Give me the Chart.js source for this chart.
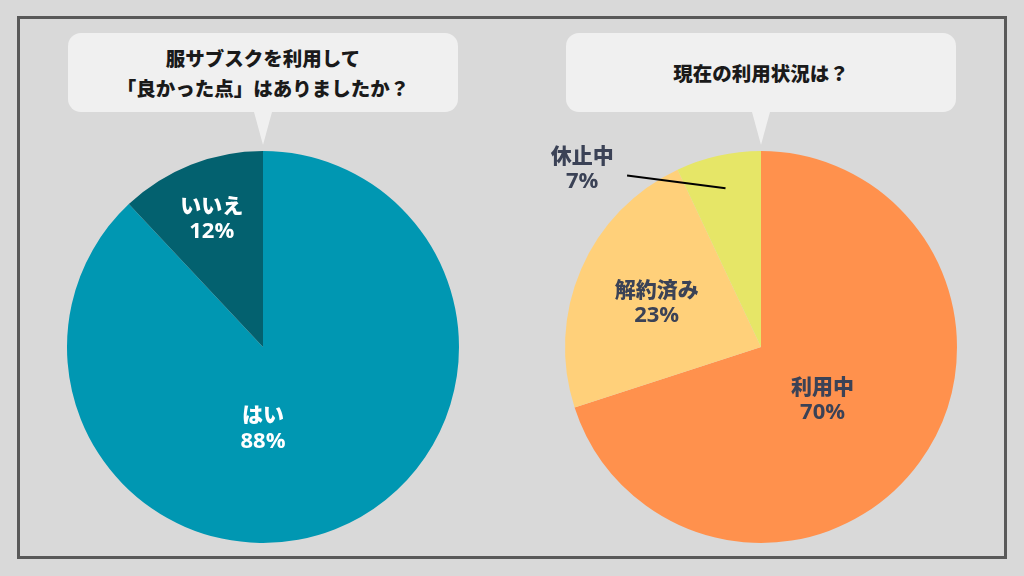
<!DOCTYPE html>
<html>
<head>
<meta charset="utf-8">
<script src="https://cdn.jsdelivr.net/npm/chart.js@4"></script>
<style>
	html, body { margin: 0; padding: 0; background: #d9d9d9; }
	#wrap { position: relative; width: 1024px; height: 576px; overflow: hidden; font-family: "Noto Sans CJK JP", sans-serif; }
	#frame { position: absolute; left: 17px; top: 16px; width: 984px; height: 537px; border: 3px solid #595959; }
	.bubble { position: absolute; top: 33px; width: 390px; height: 79px; background: #f0f0f0; border-radius: 13px;
		display: flex; align-items: center; justify-content: center; text-align: center;
		font-weight: 900; font-size: 19.5px; line-height: 30px; color: #1a1a1a; }
	.bubble::after { content: ''; position: absolute; left: 186px; top: 79px; border-left: 9px solid transparent;
		border-right: 9px solid transparent; border-top: 33px solid #f0f0f0; }
	canvas { position: absolute; left: 0; top: 0; }
</style>
</head>
<body>
<div id="wrap">
	<div id="frame"></div>
	<div class="bubble" style="left:68px">服サブスクを利用して<br>「良かった点」はありましたか？</div>
	<div class="bubble" style="left:566px">現在の利用状況は？</div>
	<canvas id="chart-q1" width="1024" height="576"></canvas>
	<canvas id="chart-q2" width="1024" height="576"></canvas>
</div>
<script>
const q1Labels = ['はい', 'いいえ'];
const q1Values = [88, 12];
const q1Colors = ['#0097b2', '#03616f'];

const q2Labels = ['利用中', '解約済み', '休止中'];
const q2Values = [70, 23, 7];
const q2Colors = ['#ff914d', '#ffd07a', '#e6e667'];

// angle measured clockwise from 12 o'clock, in degrees
function polar(cx, cy, deg, r) {
	const a = (deg - 90) * Math.PI / 180;
	return { x: cx + Math.cos(a) * r, y: cy + Math.sin(a) * r };
}

const sliceLabels = {
	id: 'sliceLabels',
	afterDatasetsDraw(chart, args, opts) {
		const ctx = chart.ctx;
		const meta = chart.getDatasetMeta(0);
		const values = chart.data.datasets[0].data;
		const total = values.reduce((a, b) => a + b, 0);
		ctx.save();
		ctx.textAlign = 'center';
		ctx.textBaseline = 'middle';
		meta.data.forEach((arc, i) => {
			const p = opts.pos[i] || {};
			const cx = arc.x, cy = arc.y, R = arc.outerRadius;
			const mid = ((arc.startAngle + arc.endAngle) / 2) * 180 / Math.PI + 90;
			const at = polar(cx, cy, p.angle !== undefined ? p.angle : mid, (p.r || 0.6) * R);
			if (p.line) {
				const a = polar(cx, cy, mid, p.line[0] * R);
				const b = polar(cx, cy, p.line[1], p.line[2] * R);
				ctx.strokeStyle = '#000';
				ctx.lineWidth = 2;
				ctx.beginPath();
				ctx.moveTo(a.x, a.y);
				ctx.lineTo(b.x, b.y);
				ctx.stroke();
			}
			ctx.fillStyle = opts.color;
			ctx.font = '900 21px "Noto Sans CJK JP", sans-serif';
			ctx.fillText(chart.data.labels[i], at.x, at.y - 13);
			ctx.font = '700 22px "Open Sans", "Noto Sans CJK JP", sans-serif';
			ctx.fillText(Math.round(values[i] / total * 100) + '%', at.x, at.y + 14);
		});
		ctx.restore();
	}
};

function pieChart(id, labels, values, colors, pad, labelOpts) {
	return new Chart(document.getElementById(id), {
		type: 'pie',
		data: {
			labels,
			datasets: [{ data: values, backgroundColor: colors, borderWidth: 0 }]
		},
		options: {
			responsive: false,
			animation: false,
			events: [],
			layout: { padding: pad },
			plugins: {
				legend: { display: false },
				tooltip: { enabled: false },
				sliceLabels: labelOpts
			}
		},
		plugins: [sliceLabels]
	});
}

pieChart('chart-q1', q1Labels, q1Values, q1Colors,
	{ left: 67, right: 565, top: 151, bottom: 33 },
	{ color: '#ffffff', pos: [{ angle: 180, r: 0.41 }, { r: 0.71 }] });

pieChart('chart-q2', q2Labels, q2Values, q2Colors,
	{ left: 565, right: 67, top: 151, bottom: 33 },
	{ color: '#3b4256', pos: [{ r: 0.41, angle: 130 }, { r: 0.58 }, { angle: -45, r: 1.29, line: [0.83, -38, 1.11] }] });
</script>
</body>
</html>
